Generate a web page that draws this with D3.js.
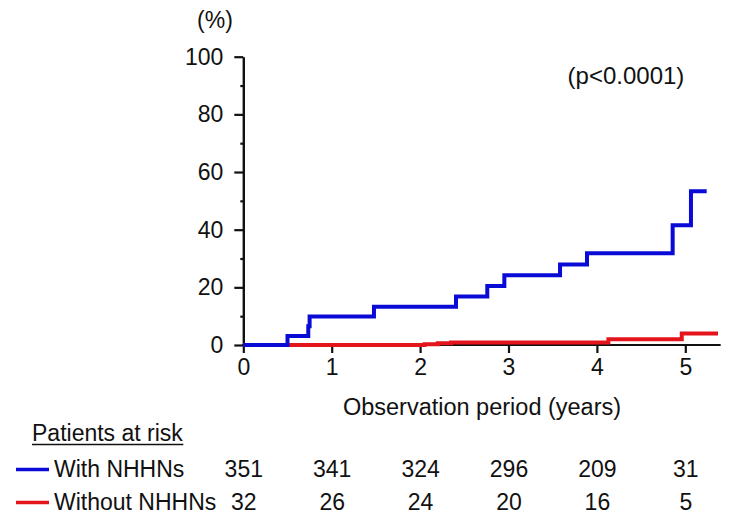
<!DOCTYPE html>
<html>
<head>
<meta charset="utf-8">
<script src="https://cdn.jsdelivr.net/npm/d3@7/dist/d3.min.js"></script>
<style>
  html, body { margin: 0; padding: 0; background: #ffffff; }
  svg { display: block; }
  text { font-family: "Liberation Sans", Arial, Helvetica, sans-serif; fill: #111; }
</style>
</head>
<body>
<div id="chart"></div>
<script>
// ---- Data ----
const yMajorTicks = [0, 20, 40, 60, 80, 100];
const yMinorTicks = [10, 30, 50, 70, 90];
const xTicks = [0, 1, 2, 3, 4, 5];

// Cumulative incidence (%) step curves: event times (years) and values after each time
const withTimes  = [0, 0.50, 0.735, 0.75, 1.478, 2.406, 2.76, 2.953, 3.583, 3.888, 4.857, 5.064, 5.242];
const withValues = [0, 3.1, 6.5, 9.9, 13.3, 16.8, 20.5, 24.2, 27.9, 31.8, 41.5, 53.3, 53.3];

const withoutTimes  = [0, 2.05, 2.2, 2.35, 4.13, 4.96, 5.37];
const withoutValues = [0, 0.3, 0.6, 0.9, 2.0, 4.0, 4.0];

const seriesNames = ["With NHHNs", "Without NHHNs"];
const seriesColors = ["#0a0ad6", "#e3141c"];
const atRiskWith = [351, 341, 324, 296, 209, 31];
const atRiskWithout = [32, 26, 24, 20, 16, 5];

const pText = "(p<0.0001)";
const yUnit = "(%)";
const xTitle = "Observation period (years)";
const tableTitle = "Patients at risk";

// ---- Layout ----
const W = 756, H = 518;
const svg = d3.select("#chart").append("svg").attr("width", W).attr("height", H);

const x = d3.scaleLinear().domain([0, 5]).range([243.3, 685.3]);
const y = d3.scaleLinear().domain([0, 100]).range([345, 56.7]);
const FS = 23;

// Y axis major
const yAxisMajor = d3.axisLeft(y).tickValues(yMajorTicks).tickSize(9).tickSizeOuter(0).tickPadding(11);
const gy = svg.append("g").attr("transform", `translate(${x(0)},0)`).call(yAxisMajor);
gy.selectAll("text").style("font-size", FS + "px").style("font-family", '"Liberation Sans", Arial, sans-serif').attr("fill", "#111");
gy.selectAll("line").attr("stroke", "#111").attr("stroke-width", 2.2);
gy.select(".domain").attr("stroke", "#111").attr("stroke-width", 2.4);

// Y axis minor
const yAxisMinor = d3.axisLeft(y).tickValues(yMinorTicks).tickSize(3).tickSizeOuter(0).tickFormat("");
const gy2 = svg.append("g").attr("transform", `translate(${x(0)},0)`).call(yAxisMinor);
gy2.select(".domain").remove();
gy2.selectAll("line").attr("stroke", "#111").attr("stroke-width", 2.2);

// X axis
const xAxis = d3.axisBottom(x).tickValues(xTicks).tickSize(8).tickSizeOuter(0).tickPadding(6).tickFormat(d3.format("d"));
const gx = svg.append("g").attr("transform", `translate(0,${y(0)})`).call(xAxis);
gx.select(".domain").remove();
gx.selectAll("text").style("font-size", FS + "px").style("font-family", '"Liberation Sans", Arial, sans-serif').attr("fill", "#111");
gx.selectAll("line").attr("stroke", "#111").attr("stroke-width", 2.2);
svg.append("line")
  .attr("x1", x(0) - 1).attr("x2", x(5.4))
  .attr("y1", y(0)).attr("y2", y(0))
  .attr("stroke", "#111").attr("stroke-width", 2.2);

// Curves
const line = d3.line().curve(d3.curveStepAfter).x(d => x(d[0])).y(d => y(d[1]));
const withData = withTimes.map((t, i) => [t, withValues[i]]);
const withoutData = withoutTimes.map((t, i) => [t, withoutValues[i]]);

svg.append("path").datum(withoutData).attr("d", line)
  .attr("fill", "none").attr("stroke", seriesColors[1]).attr("stroke-width", 4);
svg.append("path").datum(withData).attr("d", line)
  .attr("fill", "none").attr("stroke", seriesColors[0]).attr("stroke-width", 4);

// Labels
svg.append("text").attr("x", 215).attr("y", 28).attr("text-anchor", "middle")
  .style("font-size", FS + "px").text(yUnit);
svg.append("text").attr("x", 626).attr("y", 84).attr("text-anchor", "middle")
  .style("font-size", "24px").text(pText);
svg.append("text").attr("x", 482).attr("y", 415).attr("text-anchor", "middle")
  .style("font-size", "23.5px").text(xTitle);

// Patients at risk table
const tt = svg.append("text").attr("x", 32).attr("y", 441)
  .style("font-size", FS + "px").text(tableTitle);
const bb = tt.node().getBBox();
svg.append("line").attr("x1", bb.x).attr("x2", bb.x + bb.width)
  .attr("y1", 444.5).attr("y2", 444.5).attr("stroke", "#111").attr("stroke-width", 1.6);

const rows = [atRiskWith, atRiskWithout];
const rowBase = [477, 510];
rows.forEach((vals, r) => {
  svg.append("line").attr("x1", 16).attr("x2", 49)
    .attr("y1", rowBase[r] - 7.5).attr("y2", rowBase[r] - 7.5)
    .attr("stroke", seriesColors[r]).attr("stroke-width", 3.5);
  svg.append("text").attr("x", 54).attr("y", rowBase[r])
    .style("font-size", FS + "px").text(seriesNames[r]);
  svg.selectAll(null).data(vals).enter().append("text")
    .attr("x", (d, i) => x(xTicks[i]) + 0.5)
    .attr("y", rowBase[r])
    .attr("text-anchor", "middle")
    .style("font-size", FS + "px")
    .text(d => d);
});
</script>
</body>
</html>
